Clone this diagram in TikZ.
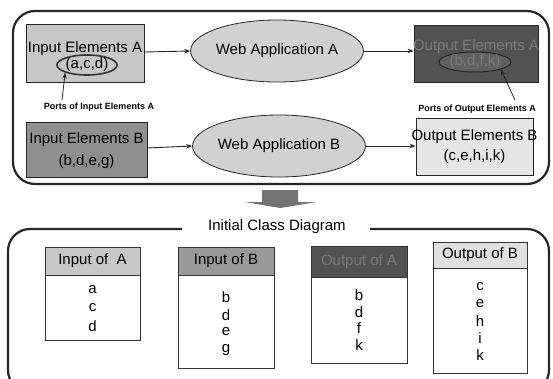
\documentclass[tikz,border=0pt]{standalone}
\usepackage{fontspec}
\setmainfont{Liberation Sans}
\usetikzlibrary{shapes.geometric,arrows.meta}
\tikzset{
  frame/.style={line width=2.2pt, draw=black!85, rounded corners=22pt},
  ebox/.style={draw=black!85, line width=0.8pt, inner sep=0pt},
  etext/.style={font=\fontsize{15}{17}\selectfont, inner sep=0pt},
  app/.style={ellipse, draw=black!85, line width=0.8pt, fill=black!18, inner sep=0pt},
  port/.style={ellipse, draw=black!80, line width=1.6pt, inner sep=0pt},
  arr/.style={-{Stealth[length=6pt,width=4.5pt]}, line width=0.9pt, draw=black!85},
  small/.style={font=\fontsize{9}{10}\selectfont\bfseries, inner sep=0pt},
  chead/.style={draw=black!80, line width=0.7pt, inner sep=0pt, font=\fontsize{15}{17}\selectfont},
  cbody/.style={draw=black!80, line width=0.7pt, inner sep=0pt, fill=white},
  item/.style={font=\fontsize{15}{17}\selectfont, inner sep=0pt},
}
\begin{document}
\begin{tikzpicture}[x=1pt,y=-1pt]
\useasboundingbox (0,0) rectangle (553,378);
\clip (0,0) rectangle (553,378);
\fill[white] (0,0) rectangle (553,378);

% top frame
\draw[frame] (13,11) rectangle (549,184);

% input A
\node[ebox, fill=black!22, minimum width=118pt, minimum height=58pt] (inA) at (85,53) {};
\node[etext] (inAt) at (85,49) {Input Elements A};
\node[port, minimum width=56pt, minimum height=20pt, font=\fontsize{15}{17}\selectfont] (inAp) at (87,65) {(a,c,d)};

% web app A
\node[app, minimum width=162pt, minimum height=62pt, font=\fontsize{15}{17}\selectfont] (waA) at (277,51) {Web Application A};

% output A
\node[ebox, fill=black!68, minimum width=124pt, minimum height=57pt] (outA) at (476,53.5) {};
\node[etext, text=black!52] (outAt) at (476,47) {Output Elements A};
\node[ellipse, draw=black!85, line width=1pt, fill=black!62, text=black!52, inner sep=0pt, minimum width=62pt, minimum height=20pt, font=\fontsize{15}{17}\selectfont] (outAp) at (475,62) {(b,d,f,k)};

% input B
\node[ebox, fill=black!44, minimum width=121pt, minimum height=55pt] (inB) at (86.5,149.5) {};
\node[etext] (inBt) at (86.5,140) {Input Elements B};
\node[etext] (inBp) at (86.5,162) {(b,d,e,g)};

% web app B
\node[app, minimum width=148pt, minimum height=62pt, font=\fontsize{15}{17}\selectfont] (waB) at (279,146) {Web Application B};

% output B
\node[ebox, fill=black!10, minimum width=117pt, minimum height=57pt] (outB) at (474.5,146.5) {};
\node[etext] (outBt) at (474.5,137) {Output Elements B};
\node[etext] (outBp) at (474.5,157) {(c,e,h,i,k)};

% arrows
\draw[arr] (inA.east |- 0,52) -- (waA.west);
\draw[arr] (waA.east) -- (outA.west |- waA.east);
\draw[arr] (inB.east |- 0,148) -- (waB.west);
\draw[arr] (waB.east) -- (outB.west |- waB.east);

% port labels
\node[small] (pinA) at (99,107) {Ports of Input Elements A};
\node[small] (poutA) at (477,109) {Ports of Output Elements A};
\coordinate (pinAs) at (62,100);
\coordinate (poutAs) at (515,100);
\draw[arr, line width=0.8pt] (pinAs) -- (inAp.south west);
\draw[arr, line width=0.8pt] (poutAs) -- (outAp.south east);

% down block arrow
\fill[black!55] (262,190) -- (298,190) -- (298,202) -- (317,202) -- (280,208) -- (245,202) -- (262,202) -- cycle;

% bottom frame
\node[font=\fontsize{15}{17}\selectfont, inner sep=0pt] (title) at (277,227) {Initial Class Diagram};
\coordinate (fl) at (182,229);
\coordinate (fr) at (370,229);
\draw[line width=2.2pt, draw=black!85, rounded corners=22pt] (fl) -- (8,229) -- (8,392) -- (549,392) -- (549,229) -- (fr);

% class boxes
\node[chead, fill=black!22, minimum width=95pt, minimum height=28pt] (cA) at (92.5,261) {Input of\ \ A};
\node[cbody, anchor=north, minimum width=95pt, minimum height=65pt] (cAb) at (cA.south) {};
\node[item] (a1) at (92.5,290) {a};
\node[item] (a2) at (92.5,308) {c};
\node[item] (a3) at (92.5,326) {d};

\node[chead, fill=black!40, minimum width=96pt, minimum height=28pt] (cB) at (226,261) {Input of B};
\node[cbody, anchor=north, minimum width=96pt, minimum height=93pt] (cBb) at (cB.south) {};
\node[item] (b1) at (226,297) {b};
\node[item] (b2) at (226,315) {d};
\node[item] (b3) at (226,332) {e};
\node[item] (b4) at (226,350) {g};

\node[chead, fill=black!68, text=black!52, minimum width=96pt, minimum height=31pt] (cC) at (359,261.5) {Output of A};
\node[cbody, anchor=north, minimum width=96pt, minimum height=86pt] (cCb) at (cC.south) {};
\node[item] (c1) at (359,295) {b};
\node[item] (c2) at (359,312) {d};
\node[item] (c3) at (359,328) {f};
\node[item] (c4) at (359,345) {k};

\node[chead, fill=black!12, minimum width=94pt, minimum height=26pt] (cD) at (480,255) {Output of B};
\node[cbody, anchor=north, minimum width=94pt, minimum height=105pt] (cDb) at (cD.south) {};
\node[item] (d1) at (480,287) {c};
\node[item] (d2) at (480,304) {e};
\node[item] (d3) at (480,321) {h};
\node[item] (d4) at (480,338) {i};
\node[item] (d5) at (480,355) {k};
\end{tikzpicture}
\end{document}
